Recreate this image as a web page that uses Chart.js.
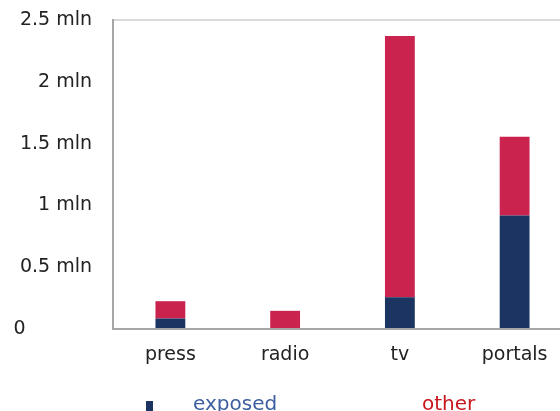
<!DOCTYPE html>
<html>
<head>
<meta charset="utf-8">
<script src="https://cdn.jsdelivr.net/npm/chart.js@4/dist/chart.umd.min.js"></script>
<style>
  html, body { margin: 0; padding: 0; background: #fff; overflow: hidden; }
  #wrap { position: relative; width: 572px; height: 411px; }
</style>
</head>
<body>
<div id="wrap"><canvas id="chart"></canvas></div>
<script>
// Data (millions of people)
const CATEGORIES = ['press', 'radio', 'tv', 'portals'];
const EXPOSED = [0.085, 0.008, 0.257, 0.919];
const OTHER = [0.140, 0.139, 2.114, 0.636];
const Y_TICKS = [0, 0.5, 1, 1.5, 2, 2.5];

const NAVY = '#1c3461';
const CRIMSON = '#c9234e';
const FONT = 'DejaVu Sans, sans-serif';

// Bottom legend: square marker for exposed, coloured text for both
const legendPlugin = {
  id: 'bottomLegend',
  afterDraw(chart) {
    const ctx = chart.ctx;
    const items = [
      { text: chart.data.datasets[0].label, color: '#3d5f9f', x: 193, marker: NAVY },
      { text: chart.data.datasets[1].label, color: '#c8161d', x: 422, marker: null }
    ];
    ctx.save();
    ctx.font = '20px ' + FONT;
    ctx.textBaseline = 'alphabetic';
    ctx.textAlign = 'left';
    items.forEach(it => {
      if (it.marker) {
        ctx.fillStyle = it.marker;
        ctx.fillRect(146, 401, 7, 12);
      }
      ctx.fillStyle = it.color;
      ctx.fillText(it.text, it.x, 410);
    });
    ctx.restore();
  }
};

new Chart(document.getElementById('chart'), {
  type: 'bar',
  data: {
    labels: CATEGORIES,
    datasets: [
      { label: 'exposed', data: EXPOSED, backgroundColor: NAVY, stack: 's' },
      { label: 'other', data: OTHER, backgroundColor: CRIMSON, stack: 's' }
    ]
  },
  options: {
    responsive: true,
    maintainAspectRatio: false,
    animation: false,
    barPercentage: 0.26,
    categoryPercentage: 1,
    layout: { padding: { top: 20, right: 0, bottom: 31, left: 0 } },
    plugins: {
      legend: { display: false },
      tooltip: { enabled: false }
    },
    scales: {
      x: {
        stacked: true,
        grid: { display: false, drawTicks: false },
        border: { color: '#a6a6a6', width: 2 },
        ticks: { color: '#222', font: { family: FONT, size: 19 }, padding: 15 },
        afterFit(scale) {
          scale.height = 51;
          scale.paddingLeft = 0;
          scale.paddingRight = 0;
        }
      },
      y: {
        stacked: true,
        min: 0,
        max: 2.5,
        afterBuildTicks(scale) { scale.ticks = Y_TICKS.map(v => ({ value: v })); },
        grid: {
          drawTicks: false,
          color: c => (c.tick && c.tick.value === 2.5) ? '#d9d9d9' : 'rgba(0,0,0,0)',
          lineWidth: 2
        },
        border: { color: '#a6a6a6', width: 2 },
        ticks: {
          color: '#222',
          font: { family: FONT, size: 19 },
          padding: 21,
          callback: v => v === 0 ? '0\u00a0\u00a0\u00a0\u00a0\u00a0\u00a0\u00a0\u00a0\u00a0\u00a0\u00a0' : v + ' mln'
        },
        afterFit(scale) {
          scale.width = 113;
          scale.paddingTop = 0;
          scale.paddingBottom = 0;
        }
      }
    }
  },
  plugins: [legendPlugin]
});
</script>
</body>
</html>
